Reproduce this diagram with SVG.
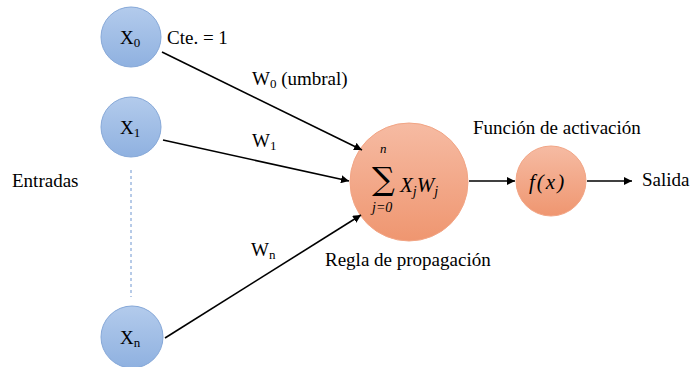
<svg xmlns="http://www.w3.org/2000/svg" width="690" height="367" viewBox="0 0 690 367">
<defs>
<linearGradient id="gb" x1="0" y1="0" x2="0" y2="1"><stop offset="0" stop-color="#b3cbec"/><stop offset="1" stop-color="#8fb1e0"/></linearGradient>
<linearGradient id="go" x1="0" y1="0" x2="0" y2="1"><stop offset="0" stop-color="#f6bba3"/><stop offset="1" stop-color="#ef9670"/></linearGradient>
<marker id="ah" viewBox="0 0 10 10" refX="10" refY="5" markerWidth="8" markerHeight="8" orient="auto" markerUnits="userSpaceOnUse"><path d="M0,0 L10,5 L0,10 z" fill="#000"/></marker>
<style>
.in{fill:url(#gb);stroke:#86a8d8;stroke-width:1}
.op{fill:url(#go);stroke:#f2a585;stroke-width:1}
.c{stroke:#000;stroke-width:1.6;fill:none;marker-end:url(#ah)}
</style>
</defs>
<rect width="690" height="367" fill="#fff"/>
<g font-family="Liberation Serif, Times New Roman, serif" font-size="19" fill="#000">
<g id="x0"><circle class="in" cx="131" cy="37" r="30"/><text x="120" y="44">X<tspan font-size="13" dy="3">0</tspan></text></g>
<g id="x1"><circle class="in" cx="131" cy="127" r="30"/><text x="120" y="134">X<tspan font-size="13" dy="3">1</tspan></text></g>
<g id="xn"><circle class="in" cx="132" cy="337" r="31"/><text x="120" y="344">X<tspan font-size="13" dy="3">n</tspan></text></g>
<g id="sum"><circle class="op" cx="409" cy="182" r="59"/>
<text x="380" y="153" font-size="13" font-style="italic">n</text>
<text x="372" y="190" font-size="32" font-family="DejaVu Serif, serif">∑</text>
<text x="372" y="212" font-size="14" font-style="italic">j=0</text>
<text x="400" y="192" font-size="21" font-style="italic">X<tspan font-size="14" dy="4">j</tspan><tspan dy="-4">W</tspan><tspan font-size="14" dy="4">j</tspan></text>
</g>
<g id="fx"><circle class="op" cx="551" cy="181" r="35"/><text x="529" y="189" font-size="21" font-style="italic" letter-spacing="2">f(x)</text></g>
<g id="labels">
<text x="167" y="44">Cte. = 1</text>
<text x="252" y="85">W<tspan font-size="13" dy="3">0</tspan><tspan dy="-3"> (umbral)</tspan></text>
<text x="252" y="147">W<tspan font-size="13" dy="3">1</tspan></text>
<text x="251" y="256">W<tspan font-size="13" dy="3">n</tspan></text>
<text x="12" y="187">Entradas</text>
<text x="325" y="266">Regla de propagación</text>
<text x="473" y="134">Función de activación</text>
<text x="642" y="186">Salida</text>
</g>
</g>
<g id="connectors">
<line x1="131" y1="170" x2="131" y2="297" stroke="#6f96d0" stroke-width="1" stroke-dasharray="3,3"/>
<line class="c" x1="162" y1="52" x2="362" y2="150"/>
<line class="c" x1="163" y1="140" x2="349" y2="181"/>
<line class="c" x1="165" y1="338" x2="361" y2="215"/>
<line class="c" x1="469" y1="181" x2="515" y2="181"/>
<line class="c" x1="587" y1="181" x2="632" y2="181"/>
</g>
</svg>
